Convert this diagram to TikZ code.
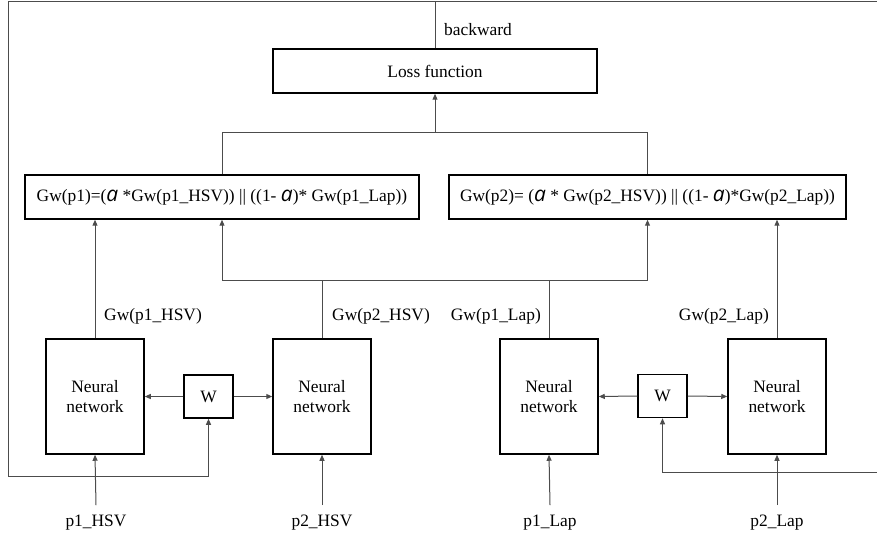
\documentclass[tikz,border=0pt]{standalone}
\usepackage{fontspec}
\setmainfont{Liberation Serif}
\newfontfamily\alphafont{Open Sans}
\usetikzlibrary{arrows.meta}
% weighting factor, set as a large sans italic letter
\newcommand\alfa{{\alphafont\itshape\fontsize{21}{21}\selectfont a}}

\begin{document}
\begin{tikzpicture}[x=1pt,y=-1pt,
  box/.style={draw=black,line width=1.5pt,inner sep=0pt,align=center,
              font=\fontsize{17.4}{20}\selectfont},
  nnbox/.style={box,minimum width=98pt,minimum height=115pt},
  wbox/.style={box,minimum width=49pt,minimum height=43pt},
  wire/.style={draw=black!70,line width=1pt},
  arr/.style={wire,-{Triangle[length=6pt,width=5pt]}},
  lbl/.style={inner sep=0pt,font=\fontsize{17.4}{20}\selectfont}]

\useasboundingbox (0,0) rectangle (877,537);

% boxes
\node[box,minimum width=324pt,minimum height=44pt] (loss) at (435,71) {Loss function};
\node[box,minimum width=394pt,minimum height=44pt] (f1) at (222,197)
  {Gw(p1)=(\alfa{} *Gw(p1\_HSV)) || ((1- \alfa)* Gw(p1\_Lap))};
\node[box,minimum width=397pt,minimum height=44pt] (f2) at (647.5,197)
  {Gw(p2)= (\alfa{} * Gw(p2\_HSV)) || ((1- \alfa)*Gw(p2\_Lap))};

\node[nnbox] (nn1) at (95,396.5)  {Neural\\network};
\node[nnbox] (nn2) at (322,396.5) {Neural\\network};
\node[nnbox] (nn3) at (549,396.5) {Neural\\network};
\node[nnbox] (nn4) at (777,396.5) {Neural\\network};

\node[wbox] (w1) at (208.5,396.5) {W};
\node[wbox] (w2) at (662.5,396)   {W};

% inputs
\node[lbl] (in1) at (96,523)  {p1\_HSV};
\node[lbl] (in2) at (322,523) {p2\_HSV};
\node[lbl] (in3) at (550,523) {p1\_Lap};
\node[lbl] (in4) at (777,523) {p2\_Lap};

% output labels
\node[lbl,anchor=west] (o1) at (104,316) {Gw(p1\_HSV)};
\node[lbl,anchor=west] (o2) at (332,316) {Gw(p2\_HSV)};
\node[lbl,anchor=east] (o3) at (541,316) {Gw(p1\_Lap)};
\node[lbl,anchor=east] (o4) at (769,316) {Gw(p2\_Lap)};
\node[lbl,anchor=west] (bw) at (444,30) {backward};

% routing points
\coordinate (tl) at (8,1.5);
\coordinate (tr) at (877,1.5);
\coordinate (bl) at (8,476);
\coordinate (br) at (877,472);
\coordinate (join) at (436,133);
\coordinate (bus) at (436,280);

% backward feedback loop
\draw[wire] (loss.north) -- (loss.north |- tl);
\draw[arr] (tr) -- (tl) -- (bl) -| (w1.south);
\draw[arr] (br) -| (w2.south);

% formula boxes into the loss
\draw[wire] (f1.north) |- (f2.north |- join) -- (f2.north);
\draw[arr] (loss.south |- join) -- (loss.south);

% network outputs into the formulas
\draw[arr] (nn1.north) -- (nn1.north |- f1.south);
\draw[arr] (nn4.north) -- (nn4.north |- f2.south);
\draw[arr] (nn2.north) |- (f1.south |- bus) -- (f1.south);
\draw[arr] (nn3.north) |- (f2.south |- bus) -- (f2.south);
\draw[wire] (nn2.north |- bus) -- (nn3.north |- bus);

% shared weights
\draw[arr] (w1.west) -- (nn1.east);
\draw[arr] (w1.east) -- (nn2.west);
\draw[arr] (w2.west) -- (nn3.east);
\draw[arr] (w2.east) -- (nn4.west);

% inputs into the networks
\draw[arr] ([yshift=10pt]in1.north) -- (nn1.south);
\draw[arr] ([yshift=10pt]in2.north) -- (nn2.south);
\draw[arr] ([yshift=10pt]in3.north) -- (nn3.south);
\draw[arr] ([yshift=10pt]in4.north) -- (nn4.south);
\end{tikzpicture}
\end{document}
